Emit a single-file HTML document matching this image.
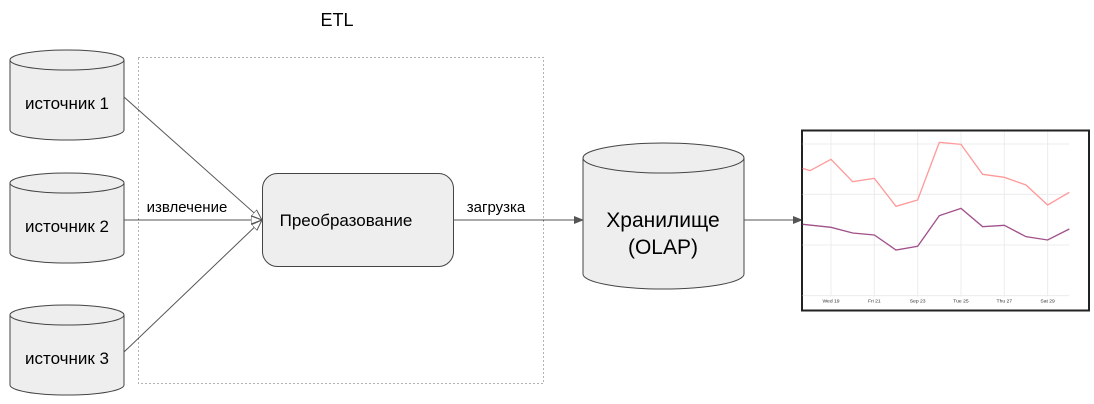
<!DOCTYPE html>
<html><head><meta charset="utf-8"><style>
html,body{margin:0;padding:0;background:#fff;}
svg{display:block;font-family:"Liberation Sans",sans-serif;}
</style></head><body>
<svg width="1094" height="404" viewBox="0 0 1094 404">
<defs>
<marker id="a" markerWidth="10" markerHeight="10" refX="9" refY="5" orient="auto" markerUnits="userSpaceOnUse"><path d="M0,1 L10,5 L0,9 Z" fill="#555"/></marker>
<marker id="o" markerWidth="12" markerHeight="10" refX="11" refY="5" orient="auto" markerUnits="userSpaceOnUse"><path d="M0,1 L11,5 L0,9 Z" fill="#fff" stroke="#555"/></marker>
</defs>
<text x="337" y="26" font-size="18" text-anchor="middle" fill="#000">ETL</text>
<rect x="138.5" y="57.5" width="405" height="326" fill="none" stroke="#666" stroke-dasharray="1,3"/>
<g fill="#eee" stroke="#444" stroke-width="1">
<path d="M10,60 A57,10 0 0 1 124,60 V130 A57,10 0 0 1 10,130 Z"/><path d="M10,60 A57,10 0 0 0 124,60" fill="none"/>
<path d="M10,183 A57,10 0 0 1 124,183 V253 A57,10 0 0 1 10,253 Z"/><path d="M10,183 A57,10 0 0 0 124,183" fill="none"/>
<path d="M10,315 A57,10 0 0 1 124,315 V385 A57,10 0 0 1 10,385 Z"/><path d="M10,315 A57,10 0 0 0 124,315" fill="none"/>
<rect x="262.5" y="173.5" width="191" height="93" rx="15"/>
<path d="M583,158 A80.5,15 0 0 1 744,158 V274 A80.5,15 0 0 1 583,274 Z"/><path d="M583,158 A80.5,15 0 0 0 744,158" fill="none"/>
</g>
<g font-size="17" fill="#000" text-anchor="middle">
<text x="67" y="109">источник 1</text>
<text x="67" y="232">источник 2</text>
<text x="67" y="364">источник 3</text>
<text x="346" y="226">Преобразование</text>
<text x="663" y="227" font-size="21">Хранилище</text>
<text x="663" y="254" font-size="21">(OLAP)</text>
</g>
<g stroke="#555" fill="none">
<path d="M124,97 L262,220" marker-end="url(#o)"/>
<path d="M124,220 L262,220" marker-end="url(#o)"/>
<path d="M124,352 L262,220" marker-end="url(#o)"/>
<path d="M453,220 L583,220" marker-end="url(#a)"/>
<path d="M744,220 L802,220" marker-end="url(#a)"/>
</g>
<text x="187" y="212" font-size="15" text-anchor="middle">извлечение</text>
<text x="496" y="212" font-size="15" text-anchor="middle">загрузка</text>
<rect x="802" y="130.5" width="287" height="180" fill="#fff" stroke="#222" stroke-width="2"/>
<g transform="translate(790,125) scale(0.3333)">
<g stroke="#ececec" stroke-width="3">
<path d="M38,57H838M38,208H838M38,360H838M38,512H838"/>
<path d="M123,20V515M253,20V515M383,20V515M513,20V515M643,20V515M773,20V515"/>
</g>
<polyline fill="none" stroke="#ff9a9a" stroke-width="4" points="38,130 60,137 123,103 188,170 253,160 318,244 383,225 448,52 513,58 578,148 643,157 708,180 773,240 838,202"/>
<polyline fill="none" stroke="#a0508a" stroke-width="4" points="38,298 123,307 188,324 253,330 318,375 383,364 448,272 513,250 578,305 643,301 708,335 773,345 838,312"/>
<g font-size="15" fill="#333" text-anchor="middle">
<text x="123" y="532">Wed 19</text><text x="253" y="532">Fri 21</text><text x="383" y="532">Sep 23</text>
<text x="513" y="532">Tue 25</text><text x="643" y="532">Thu 27</text><text x="773" y="532">Sat 29</text>
</g>
</g>
</svg>
</body></html>
